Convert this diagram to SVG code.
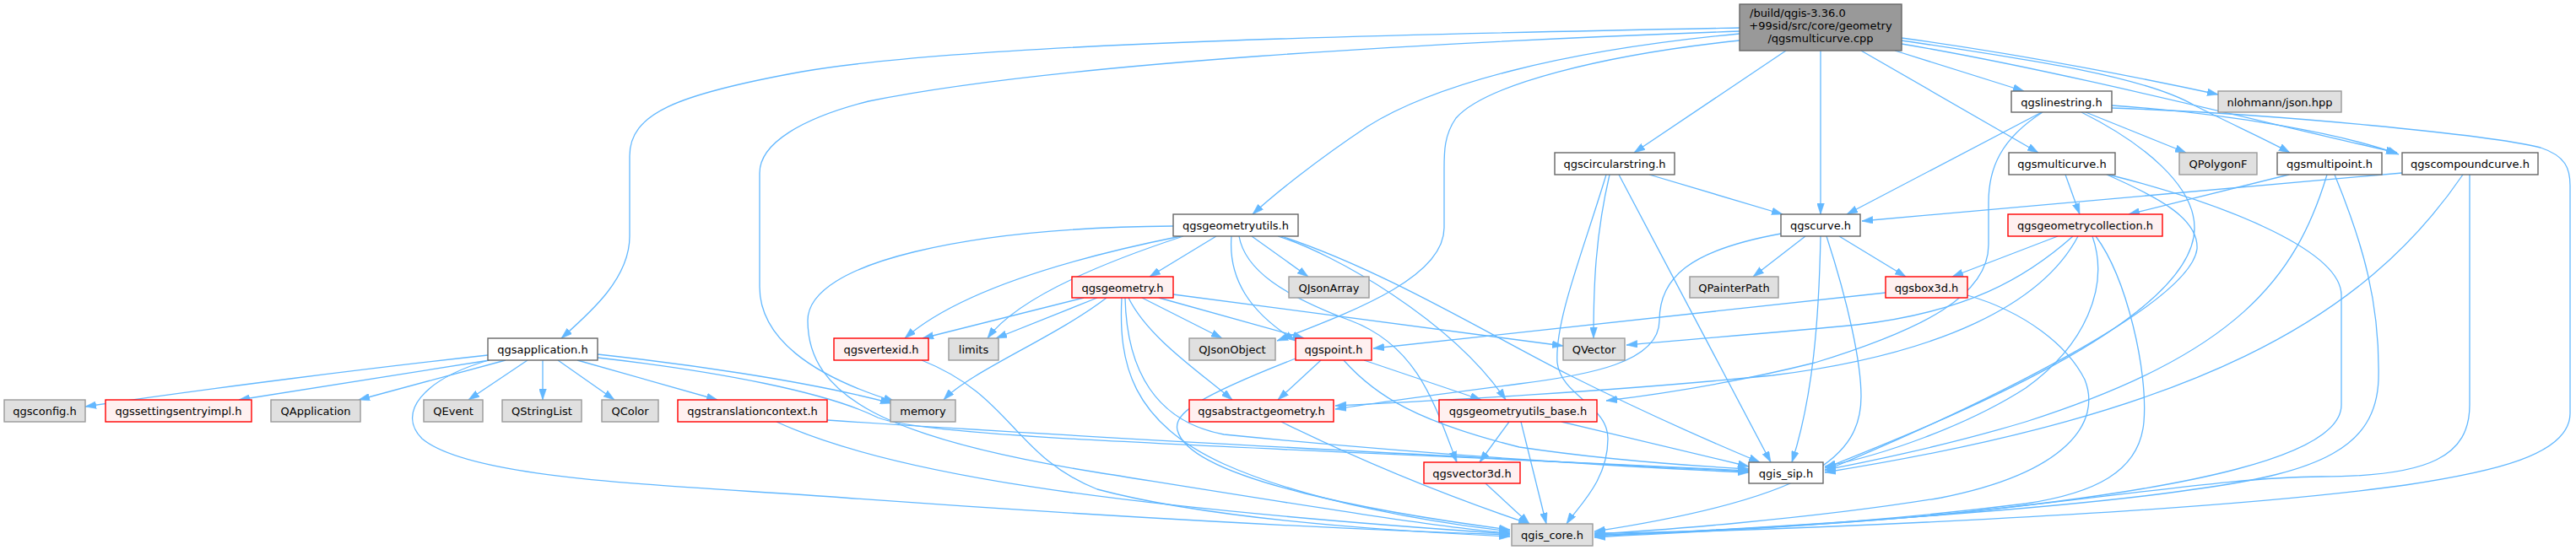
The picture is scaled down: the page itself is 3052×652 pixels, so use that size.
<svg xmlns="http://www.w3.org/2000/svg" width="3052" height="652" viewBox="0 0 3052 652">
<style>
.bg{fill:#ffffff}
.nw rect{fill:#ffffff;stroke:#666666;stroke-width:1.4}
.ng rect{fill:#e0e0e0;stroke:#999999;stroke-width:1.4}
.nr rect{fill:#fff0f0;stroke:#ff0000;stroke-width:1.4}
.nm rect{fill:#999999;stroke:#666666;stroke-width:1.4}
text{font-family:"DejaVu Sans","Liberation Sans",sans-serif;font-size:13px;fill:#000000;text-anchor:middle}
#edges path{fill:none;stroke:#63b8ff;stroke-width:1.3;marker-end:url(#ah)}
</style>
<defs>
<marker id="ah" viewBox="0 0 12 8" refX="12" refY="4" markerWidth="13" markerHeight="9" markerUnits="userSpaceOnUse" orient="auto">
<path d="M0,0 L12,4 L0,8 z" fill="#63b8ff" stroke="#63b8ff" stroke-width="0.5"/>
</marker>
</defs>
<rect class="bg" x="0" y="0" width="3052" height="652"/>
<g id="edges">
<!-- main -->
<path d="M2061,33 C1700,40 1150,50 950,85 C800,112 746,135 746,185 L746,280 C746,330 700,370 665,401"/>
<path d="M2061,37 C1700,50 1250,75 1029,120 C950,140 900,170 900,205 L900,340 C900,400 960,445 1060,476"/>
<path d="M2061,40 C1850,60 1700,100 1620,150 C1560,190 1510,230 1484,254"/>
<path d="M2061,48 C1900,65 1760,100 1725,140 C1711,160 1711,180 1711,200 L1711,270 C1711,330 1600,370 1513,404"/>
<path d="M2116,60 L1936,181"/>
<path d="M2157,60 L2157,254"/>
<path d="M2205,60 L2415,181"/>
<path d="M2245,60 L2398,108"/>
<path d="M2253,45 C2400,65 2550,95 2628,112"/>
<path d="M2253,48 C2400,70 2540,90 2600,125 C2650,150 2690,168 2713,181"/>
<path d="M2253,52 C2450,85 2700,150 2840,181"/>
<!-- linestring -->
<path d="M2419,133 L2188,254"/>
<path d="M2420,133 C2370,165 2356,200 2356,240 L2356,290 C2356,350 2280,390 2150,430 C2050,455 1960,468 1903,475"/>
<path d="M2471,133 L2590,181"/>
<path d="M2466,133 C2540,170 2600,220 2600,270 C2600,380 2300,500 2162,555"/>
<path d="M2502,125 C2650,135 2780,160 2842,183"/>
<path d="M2502,128 C2700,135 2950,160 3010,175 C3040,185 3045,200 3045,220 L3045,490 C3045,540 2950,560 2850,575 C2600,610 2100,628 1889,634"/>
<!-- multicurve -->
<path d="M2447,207 L2464,254"/>
<path d="M2496,207 C2560,235 2605,260 2603,295 C2595,360 2350,480 2162,558"/>
<path d="M2498,207 C2650,245 2774,300 2774,350 L2774,480 C2774,540 2600,580 2300,610 C2100,628 1950,632 1889,635"/>
<!-- multipoint -->
<path d="M2712,207 L2522,254"/>
<path d="M2757,207 C2720,330 2650,420 2400,500 C2300,530 2200,550 2162,557"/>
<path d="M2766,207 C2800,290 2820,360 2818,450 C2815,530 2750,560 2600,580 C2400,610 2000,630 1889,636"/>
<!-- compoundcurve -->
<path d="M2846,205 L2206,262"/>
<path d="M2918,207 C2800,380 2600,490 2162,560"/>
<path d="M2926,207 L2926,480 C2926,540 2880,565 2750,565 C2650,565 2500,590 2300,610 C2100,628 1950,633 1889,637"/>
<!-- circularstring -->
<path d="M1954,207 L2112,254"/>
<path d="M1907,207 C1890,280 1888,340 1888,401"/>
<path d="M1903,207 C1875,300 1842,380 1845,430 C1850,470 1905,480 1905,520 C1905,570 1870,600 1856,621"/>
<path d="M1918,207 L2098,548"/>
<!-- curve -->
<path d="M2139,280 L2077,328"/>
<path d="M2179,280 L2258,328"/>
<path d="M2110,277 C2000,297 1966,330 1966,380 C1966,430 1880,445 1800,455 C1700,468 1640,476 1582,485"/>
<path d="M2157,280 C2155,380 2148,470 2123,548"/>
<path d="M2164,280 C2190,360 2205,430 2205,470 C2205,540 2150,590 1889,630"/>
<!-- geometrycollection -->
<path d="M2438,280 L2313,328"/>
<path d="M2456,280 C2400,330 2330,370 2200,385 C2100,395 2000,402 1927,409"/>
<path d="M2462,280 C2420,360 2300,420 2100,445 C1900,465 1700,475 1582,481"/>
<path d="M2479,280 C2500,340 2470,410 2400,460 C2330,505 2230,540 2162,553"/>
<path d="M2483,280 C2520,330 2545,440 2540,500 C2535,560 2480,585 2400,597 C2200,622 2000,632 1889,632"/>
<!-- box3d -->
<path d="M2234,347 L1627,413"/>
<path d="M2331,350 C2400,370 2450,410 2470,450 C2490,500 2450,560 2300,590 C2150,615 1950,630 1889,633"/>
<!-- geometryutils -->
<path d="M1390,268 C1150,270 957,310 957,380 C957,470 1050,520 1300,560 C1500,592 1700,625 1789,632"/>
<path d="M1441,280 L1362,328"/>
<path d="M1399,280 C1250,310 1130,350 1072,401"/>
<path d="M1402,280 C1280,320 1200,360 1170,401"/>
<path d="M1483,280 L1550,328"/>
<path d="M1459,280 C1455,330 1480,370 1535,404"/>
<path d="M1468,280 C1475,320 1520,350 1600,380 C1680,410 1700,480 1726,548"/>
<path d="M1514,280 C1580,300 1720,380 1784,474"/>
<path d="M1518,280 C1640,320 1770,400 1860,445 C1950,490 2030,525 2085,548"/>
<!-- geometry -->
<path d="M1284,353 L1093,401"/>
<path d="M1300,353 L1180,401"/>
<path d="M1311,353 C1250,400 1150,440 1118,474"/>
<path d="M1353,353 L1448,401"/>
<path d="M1373,353 L1545,401"/>
<path d="M1337,353 C1360,400 1420,440 1460,474"/>
<path d="M1390,349 L1852,410"/>
<path d="M1329,353 C1325,430 1340,500 1450,550 C1550,595 1700,620 1789,630"/>
<path d="M1333,353 C1335,440 1370,500 1450,515 C1700,540 1950,555 2072,560"/>
<!-- vertexid -->
<path d="M1092,427 C1200,470 1200,540 1300,580 C1450,620 1700,632 1789,636"/>
<!-- point -->
<path d="M1535,425 C1420,470 1390,490 1395,510 C1410,570 1650,610 1789,628"/>
<path d="M1565,427 L1514,474"/>
<path d="M1592,427 C1630,470 1680,500 1800,530 C1900,545 2000,552 2072,556"/>
<path d="M1616,427 L1755,474"/>
<!-- abstractgeometry -->
<path d="M1518,500 C1620,550 1720,590 1812,621"/>
<!-- geometryutils_base -->
<path d="M1788,500 L1753,548"/>
<path d="M1802,500 L1832,621"/>
<path d="M1850,500 L2072,553"/>
<!-- vector3d -->
<path d="M1760,573 L1812,621"/>
<!-- application -->
<path d="M578,421 C450,435 250,460 101,482"/>
<path d="M580,427 L283,474"/>
<path d="M599,427 L425,474"/>
<path d="M625,427 L555,474"/>
<path d="M643,427 L643,474"/>
<path d="M661,427 L728,474"/>
<path d="M684,427 L850,474"/>
<path d="M708,420 C800,430 950,450 1056,478"/>
<path d="M708,424 C850,440 980,465 1040,495 C1100,520 1500,530 2072,558"/>
<path d="M579,427 C500,450 470,490 500,520 C560,570 800,575 1000,590 C1300,612 1600,628 1789,634"/>
<!-- translationcontext -->
<path d="M920,500 C1050,560 1300,600 1789,633"/>
<path d="M980,498 C1300,520 1800,545 2072,559"/>
</g>
<g id="n_main" class="nm"><rect x="2061" y="5" width="192" height="55"/><text x="2073" y="20" style="text-anchor:start">/build/qgis-3.36.0</text><text x="2157" y="35">+99sid/src/core/geometry</text><text x="2157" y="50">/qgsmulticurve.cpp</text></g>
<g id="n_qgsapplication" class="nw"><rect x="578" y="401" width="130" height="26"/><text x="643" y="419">qgsapplication.h</text></g>
<g id="n_qgsgeometryutils" class="nw"><rect x="1390" y="254" width="148" height="26"/><text x="1464" y="272">qgsgeometryutils.h</text></g>
<g id="n_qgscircularstring" class="nw"><rect x="1842" y="181" width="142" height="26"/><text x="1913" y="199">qgscircularstring.h</text></g>
<g id="n_qgscurve" class="nw"><rect x="2110" y="254" width="94" height="26"/><text x="2157" y="272">qgscurve.h</text></g>
<g id="n_qgsmulticurve" class="nw"><rect x="2380" y="181" width="126" height="26"/><text x="2443" y="199">qgsmulticurve.h</text></g>
<g id="n_qgslinestring" class="nw"><rect x="2383" y="108" width="119" height="25"/><text x="2442.5" y="125.5">qgslinestring.h</text></g>
<g id="n_nlohmann" class="ng"><rect x="2628" y="108" width="146" height="25"/><text x="2701" y="125.5">nlohmann/json.hpp</text></g>
<g id="n_QPolygonF" class="ng"><rect x="2582" y="181" width="92" height="26"/><text x="2628" y="199">QPolygonF</text></g>
<g id="n_qgsmultipoint" class="nw"><rect x="2698" y="181" width="124" height="26"/><text x="2760" y="199">qgsmultipoint.h</text></g>
<g id="n_qgscompoundcurve" class="nw"><rect x="2846" y="181" width="161" height="26"/><text x="2926.5" y="199">qgscompoundcurve.h</text></g>
<g id="n_qgsgeometrycollection" class="nr"><rect x="2379" y="254" width="183" height="26"/><text x="2470.5" y="272">qgsgeometrycollection.h</text></g>
<g id="n_QPainterPath" class="ng"><rect x="2002" y="328" width="105" height="25"/><text x="2054.5" y="345.5">QPainterPath</text></g>
<g id="n_qgsbox3d" class="nr"><rect x="2234" y="328" width="97" height="25"/><text x="2282.5" y="345.5">qgsbox3d.h</text></g>
<g id="n_qgsgeometry" class="nr"><rect x="1270" y="328" width="120" height="25"/><text x="1330" y="345.5">qgsgeometry.h</text></g>
<g id="n_QJsonArray" class="ng"><rect x="1527" y="328" width="95" height="25"/><text x="1574.5" y="345.5">QJsonArray</text></g>
<g id="n_QVector" class="ng"><rect x="1852" y="401" width="73" height="26"/><text x="1888.5" y="419">QVector</text></g>
<g id="n_qgsvertexid" class="nr"><rect x="988" y="401" width="112" height="26"/><text x="1044" y="419">qgsvertexid.h</text></g>
<g id="n_limits" class="ng"><rect x="1124" y="401" width="59" height="26"/><text x="1153.5" y="419">limits</text></g>
<g id="n_QJsonObject" class="ng"><rect x="1409" y="401" width="102" height="26"/><text x="1460" y="419">QJsonObject</text></g>
<g id="n_qgspoint" class="nr"><rect x="1535" y="401" width="90" height="26"/><text x="1580" y="419">qgspoint.h</text></g>
<g id="n_qgsconfig" class="ng"><rect x="5" y="474" width="96" height="26"/><text x="53" y="492">qgsconfig.h</text></g>
<g id="n_qgssettingsentryimpl" class="nr"><rect x="125" y="474" width="173" height="26"/><text x="211.5" y="492">qgssettingsentryimpl.h</text></g>
<g id="n_QApplication" class="ng"><rect x="321" y="474" width="106" height="26"/><text x="374" y="492">QApplication</text></g>
<g id="n_QEvent" class="ng"><rect x="502" y="474" width="70" height="26"/><text x="537" y="492">QEvent</text></g>
<g id="n_QStringList" class="ng"><rect x="595" y="474" width="94" height="26"/><text x="642" y="492">QStringList</text></g>
<g id="n_QColor" class="ng"><rect x="713" y="474" width="67" height="26"/><text x="746.5" y="492">QColor</text></g>
<g id="n_qgstranslationcontext" class="nr"><rect x="803" y="474" width="177" height="26"/><text x="891.5" y="492">qgstranslationcontext.h</text></g>
<g id="n_memory" class="ng"><rect x="1055" y="474" width="77" height="26"/><text x="1093.5" y="492">memory</text></g>
<g id="n_qgsabstractgeometry" class="nr"><rect x="1409" y="474" width="171" height="26"/><text x="1494.5" y="492">qgsabstractgeometry.h</text></g>
<g id="n_qgsgeometryutils_base" class="nr"><rect x="1705" y="474" width="187" height="26"/><text x="1798.5" y="492">qgsgeometryutils_base.h</text></g>
<g id="n_qgsvector3d" class="nr"><rect x="1687" y="548" width="114" height="25"/><text x="1744" y="565.5">qgsvector3d.h</text></g>
<g id="n_qgis_sip" class="nw"><rect x="2072" y="548" width="88" height="25"/><text x="2116" y="565.5">qgis_sip.h</text></g>
<g id="n_qgis_core" class="ng"><rect x="1791" y="621" width="96" height="26"/><text x="1839" y="639">qgis_core.h</text></g>
</svg>
